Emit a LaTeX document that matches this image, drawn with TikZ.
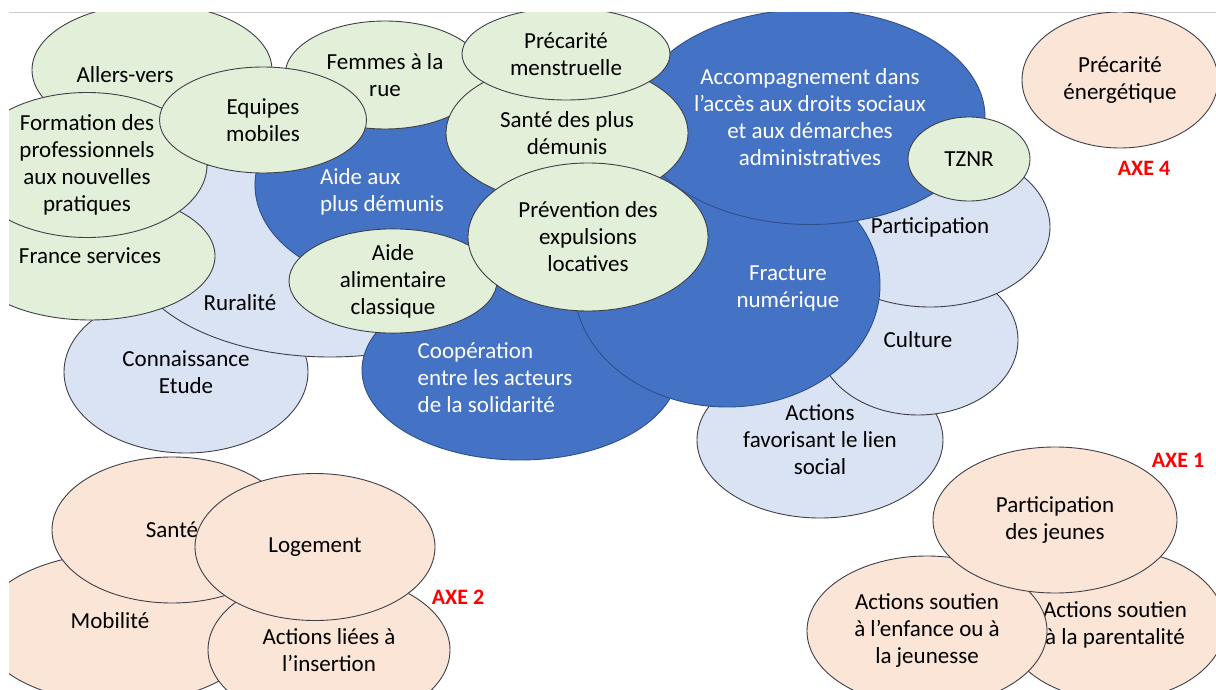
\documentclass[tikz,border=0pt]{standalone}
\usepackage{fontspec}
\setmainfont{Carlito}
\usetikzlibrary{shapes.geometric}

\definecolor{leaf}{HTML}{E2F0D9}
\definecolor{sky}{HTML}{DAE3F3}
\definecolor{navy}{HTML}{4472C4}
\definecolor{peach}{HTML}{FBE5D6}
\definecolor{rim}{HTML}{3F3F4A}
\definecolor{navyrim}{HTML}{2F4F8A}
\definecolor{axered}{HTML}{FF0000}

\begin{document}
\begin{tikzpicture}[x=1pt, y=-1pt,
  every node/.style={font=\fontsize{23}{27}\selectfont, align=center},
  blob/.style 2 args={ellipse, draw=rim, line width=0.9pt, inner sep=0pt,
    minimum width=#1pt, minimum height=#2pt},
  green/.style={fill=leaf},
  light/.style={fill=sky},
  dark/.style={fill=navy, draw=navyrim, text=white},
  orange/.style={fill=peach},
  axe/.style={text=axered, font=\fontsize{22}{26}\selectfont\bfseries}]
\useasboundingbox (0,0) rectangle (1216,690);
\draw[gray!40, line width=0.8pt] (9,12) -- (1216,12);

\begin{scope}
\clip (9,12.5) rectangle (1216,690);
% axe 3 cluster
\node[blob={244}{162}, light] (connaissance) at (186,372) {Connaissance\\Etude};
\node[blob={400}{214}, light] (ruralite) at (330,250) {};
\node at (240,303) (ruralite-t) {Ruralité};
\node[blob={250}{128}, green] (france) at (90,256) {France services};
\node[blob={240}{132}, green] (allers) at (152,70) {};
\node at (125,75) (allers-t) {Allers-vers};
\node[blob={240}{145}, green] (formation) at (87,165) {Formation des\\professionnels\\aux nouvelles\\pratiques};
\node[blob={290}{200}, dark] (demunis) at (400,185) {};
\node[align=left, text=white] at (382,192) (demunis-t) {Aide aux\\plus démunis};
\node[blob={316}{180}, dark] (cooperation) at (520,370) {};
\node[align=left, text=white] at (495,378) (cooperation-t) {Coopération\\entre les acteurs\\de la solidarité};
\node[blob={246}{156}, light] (lien) at (820,440) {Actions\\favorisant le lien\\social};
\node[blob={200}{150}, light] (culture) at (918,340) {Culture};
\node[blob={240}{160}, light] (participation) at (930,227) {Participation};
\node[blob={306}{244}, dark] (fracture) at (727,285) {};
\node[text=white] at (788,288) (fracture-t) {Fracture\\numérique};
\node[blob={350}{215}, dark] (accompagnement) at (810,117) {Accompagnement dans\\l’accès aux droits sociaux\\et aux démarches\\administratives};
\node[blob={200}{108}, green] (femmes) at (385,75) {Femmes à la\\rue};
\node[blob={242}{140}, green] (sante-demunis) at (567,133) {Santé des plus\\démunis};
\node[blob={208}{92}, green] (menstruelle) at (566,54) {Précarité\\menstruelle};
\node[blob={207}{106}, green] (equipes) at (263,120) {Equipes\\mobiles};
\node[blob={208}{104}, green] (alimentaire) at (393,281) {Aide\\alimentaire\\classique};
\node[blob={240}{148}, green] (prevention) at (588,237) {Prévention des\\expulsions\\locatives};
\node[blob={122}{84}, green] (tznr) at (969,159) {TZNR};

% axe 4
\node[blob={196}{136}, orange] (energie) at (1120,80) {Précarité\\énergétique};

% axe 2
\node[blob={280}{150}, orange] (mobilite) at (120,628) {};
\node at (110,621) (mobilite-t) {Mobilité};
\node[blob={240}{146}, orange] (sante) at (172,530) {Santé};
\node[blob={242}{150}, orange] (insertion) at (329,650) {Actions liées à\\l’insertion};
\node[blob={240}{147}, orange] (logement) at (315,547) {Logement};

% axe 1
\node[blob={220}{150}, orange] (parentalite) at (1115,625) {Actions soutien\\à la parentalité};
\node[blob={240}{150}, orange] (enfance) at (927,631) {Actions soutien\\à l’enfance ou à\\la jeunesse};
\node[blob={244}{146}, orange] (jeunes) at (1055,520) {Participation\\des jeunes};
\end{scope}

\node[axe] (axe4) at (1144,168) {AXE 4};
\node[axe] (axe2) at (458,597) {AXE 2};
\node[axe] (axe1) at (1178,460) {AXE 1};
\end{tikzpicture}
\end{document}
